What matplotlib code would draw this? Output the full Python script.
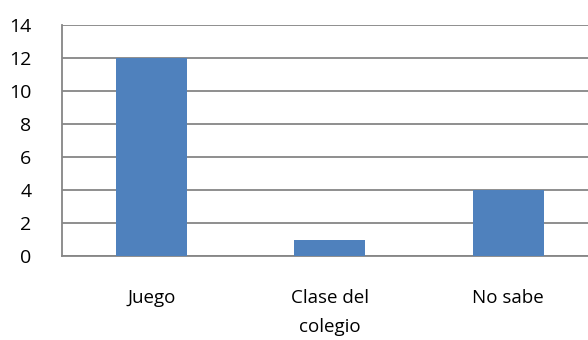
import matplotlib
matplotlib.use("Agg")
import matplotlib.pyplot as plt

categories = ["Juego", "Clase del\ncolegio", "No sabe"]
values = [12, 1, 4]
yticks = [0, 2, 4, 6, 8, 10, 12, 14]

plt.rcParams["font.family"] = ["Open Sans", "DejaVu Sans"]

W, H = 588, 340
fig = plt.figure(figsize=(W / 100, H / 100), dpi=100)
left, right, top, bottom = 62, 588, 25, 256
ax = fig.add_axes([left / W, (H - bottom) / H, (right - left) / W, (bottom - top) / H])

x = list(range(len(categories)))
ax.bar(x, values, width=0.4, color="#4F81BD", zorder=3)

span = (right - left) / 178.5
ax.set_xlim(-0.5, -0.5 + span)
ax.set_ylim(0, 14)
ax.set_yticks(yticks)
ax.set_xticks(x)
ax.set_xticklabels(categories, fontsize=13.5, linespacing=1.75, va="top",
                   multialignment="center")
ax.tick_params(axis="y", labelsize=14, length=0, pad=22)
ax.tick_params(axis="x", length=0, pad=24)

ax.grid(axis="y", color="#868686", linewidth=1.3, zorder=0)
for side in ["top", "right"]:
    ax.spines[side].set_visible(False)
for side in ["left", "bottom"]:
    ax.spines[side].set_color("#868686")
    ax.spines[side].set_linewidth(1.3)

fig.savefig("out.png", dpi=100, facecolor="white")
